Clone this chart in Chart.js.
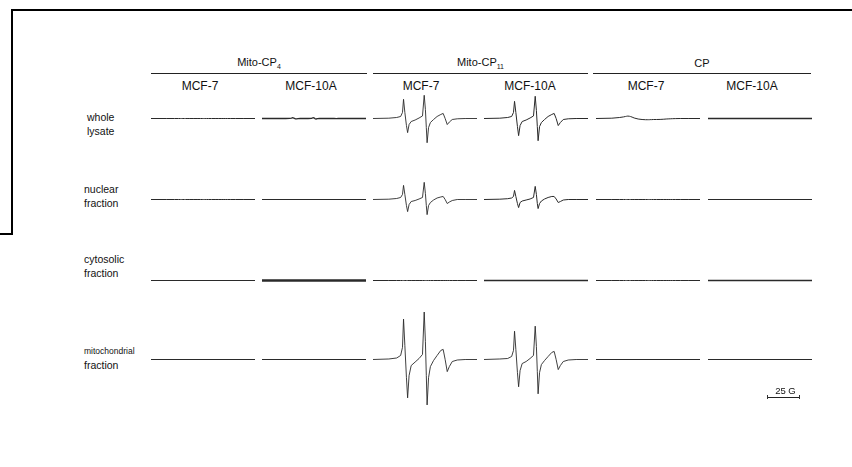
<!DOCTYPE html>
<html>
<head>
<meta charset="utf-8">
<script src="https://cdn.jsdelivr.net/npm/chart.js@4.4.1/dist/chart.umd.min.js"></script>
<style>
  html, body { margin: 0; padding: 0; background: #fff; }
  #fig { position: relative; width: 852px; height: 467px; overflow: hidden; font-family: "Liberation Sans", Arial, sans-serif; color: #111; }
  .lbl { position: absolute; white-space: nowrap; transform: translate(-50%, -50%); }
  .row { position: absolute; white-space: nowrap; font-size: 10.5px; line-height: 14px; }
  .hline { position: absolute; height: 0; border-top: 1px solid #222; }
  .frame { position: absolute; background: #000; }
  canvas { position: absolute; }
  sub { font-size: 7px; vertical-align: -3px; }
</style>
</head>
<body>
<div id="fig"></div>
<script>
// field axis (G) shared by all traces
const fieldG = [0, 12, 18, 21, 22.4, 23.2, 24.2, 25.4, 26.3, 27.4, 29, 32, 35, 37.6, 38.9, 39.8, 40.5, 41.1, 42.2, 43.6, 46, 48.7, 51.5, 53.3, 54.8, 56.4, 58, 60.2, 64, 70, 79];

const probes = ['Mito-CP', 'Mito-CP', 'CP'];
const probeSubs = ['4', '11', ''];
const cellLines = ['MCF-7', 'MCF-10A'];
const fractions = [['whole', 'lysate'], ['nuclear', 'fraction'], ['cytosolic', 'fraction'], ['mitochondrial', 'fraction']];

// EPR intensities (arbitrary units), one array per spectrum
const flat = fieldG.map(() => 0);
const wholeCP4_10A  = [0, 0, 0, 0.2, 0.4, 0.8, 0.3, -0.3, -0.4, -0.2, 0, 0, 0, 0.2, 0.8, 0.3, -0.3, -0.5, -0.2, 0, 0, 0, 0, 0.1, 0, -0.1, 0, 0, 0, 0, 0];
const wholeCP11_7   = [0, 0.3, 1, 2, 6, 19, 6, -7, -14, -6, -3, -1.5, 0.5, 2.5, 23, 9, -9, -24, -9, -4, -1, 2, 4, 5, 0, -6, -3.5, -1, -0.3, 0, 0];
const wholeCP11_10A = [0, 0.3, 1, 2, 6, 17, 6, -8, -17, -7, -3, -1.5, 0.5, 2.5, 22, 8, -8, -22, -8, -4, -1, 2, 4, 5, 0, -7, -4, -1, -0.3, 0, 0];
const wholeCP_7     = [0, 0.3, 1, 1.6, 2, 2.2, 2.4, 2.2, 1.9, 1.4, 0.5, -0.5, -1, -1.2, -1.2, -1.2, -1.2, -1.1, -1.1, -1, -1, -0.9, -0.7, -0.5, -0.4, -0.3, -0.2, -0.1, 0, 0, 0];
const nucCP11_7     = [0, 0.3, 1, 2, 5, 14, 5, -6, -12, -5, -2, -1, 0.5, 2, 17, 6, -6, -15, -6, -3, -0.5, 1.5, 2.5, 3, 0, -4, -2.5, -1, 0, 0, 0];
const nucCP11_10A   = [0, 0.3, 0.8, 1.5, 3, 9, 3, -4, -8, -3, -1.5, -0.5, 0.5, 2, 13, 5, -4, -9, -4, -1.5, 0.5, 2, 3, 3, 0.5, -3, -2, -0.5, 0, 0, 0];
const mitoCP11_7    = [0, 0.5, 1.5, 4, 12, 40, 14, -18, -38, -16, -6, -2.5, 1, 5, 47, 18, -16, -45, -18, -7, -1, 4, 9, 10, 0, -12, -7, -2, -0.5, 0, 0];
const mitoCP11_10A  = [0, 0.5, 1, 3, 9, 28, 10, -13, -27, -11, -4, -2, 1, 4, 33, 13, -12, -34, -13, -5, -1, 3, 7, 8, 0, -10, -6, -2, -0.5, 0, 0];

// [fraction][probe*2 + cell line]
const spectra = [
  [flat, wholeCP4_10A, wholeCP11_7, wholeCP11_10A, wholeCP_7, flat],
  [flat, flat, nucCP11_7, nucCP11_10A, flat, flat],
  [flat, flat, flat, flat, flat, flat],
  [flat, flat, mitoCP11_7, mitoCP11_10A, flat, flat]
];

// layout / style
const colX = [151, 262, 373, 484, 596, 708];
const colW = 104;
const rowY = [118, 199, 280, 359];
const noiseW = [
  [1.0, 1.3, 0.9, 1.0, 1.0, 1.4],
  [1.0, 1.2, 0.9, 1.0, 1.0, 1.2],
  [1.1, 2.4, 1.0, 1.7, 1.0, 1.7],
  [1.1, 1.2, 0.9, 0.9, 1.2, 1.2]
];

const fig = document.getElementById('fig');
function add(cls, style, html) {
  const d = document.createElement('div');
  d.className = cls;
  Object.assign(d.style, style);
  if (html !== undefined) d.innerHTML = html;
  fig.appendChild(d);
  return d;
}

// frame
add('frame', {left: '11px', top: '9px', width: '841px', height: '2px'});
add('frame', {left: '11px', top: '9px', width: '2px', height: '226px'});
add('frame', {left: '0px', top: '233px', width: '13px', height: '2px'});

// probe headers
const groupX = [[151, 367], [373, 588], [593, 811]];
probes.forEach((p, i) => {
  const [a, b] = groupX[i];
  const txt = probeSubs[i] ? p + '<sub>' + probeSubs[i] + '</sub>' : p;
  add('lbl', {left: ((a + b) / 2) + 'px', top: '63px', fontSize: '11px'}, txt);
  add('hline', {left: a + 'px', top: '73px', width: (b - a) + 'px'});
});
const cellX = [200, 311, 421, 530, 646, 752];
cellX.forEach((x, i) => {
  add('lbl', {left: x + 'px', top: '86px', fontSize: '12px'}, cellLines[i % 2]);
});

// fraction labels
const rowLabelY = [124, 196, 266, 357];
fractions.forEach((f, r) => {
  const d = add('row', {left: '84px', top: (rowLabelY[r] - 14) + 'px'}, f[0] + '<br>' + f[1]);
  if (r === 0) { d.style.textAlign = 'center'; d.style.left = '87px'; }
  if (r === 3) { d.innerHTML = '<span style="font-size:8.5px">' + f[0] + '</span><br>' + f[1]; }
});

// spectra
let scaleChart = null;
spectra.forEach((row, r) => {
  row.forEach((vals, c) => {
    const cv = document.createElement('canvas');
    cv.width = colW; cv.height = 101;
    cv.style.left = colX[c] + 'px';
    cv.style.top = (rowY[r] - 50) + 'px';
    fig.appendChild(cv);
    const ch = new Chart(cv.getContext('2d'), {
      type: 'line',
      data: {
        datasets: [{
          data: fieldG.map((g, k) => ({x: g, y: vals[k]})),
          borderColor: '#2a2a2a',
          borderWidth: noiseW[r][c],
          pointRadius: 0,
          tension: 0
        }]
      },
      options: {
        responsive: false,
        animation: false,
        events: [],
        plugins: { legend: { display: false }, tooltip: { enabled: false } },
        layout: { padding: 0 },
        scales: {
          x: { type: 'linear', min: 0, max: 79, display: false },
          y: { min: -50, max: 50, display: false }
        }
      }
    });
    if (r === 3 && c === 5) scaleChart = ch;
  });
});

// 25 G scale bar from the chart's own x scale
const barPx = scaleChart.scales.x.getPixelForValue(25) - scaleChart.scales.x.getPixelForValue(0);
add('hline', {left: '767px', top: '397px', width: barPx + 'px'});
add('frame', {left: '767px', top: '395px', width: '1px', height: '4px', background: '#333'});
add('frame', {left: (767 + barPx - 1) + 'px', top: '395px', width: '1px', height: '4px', background: '#333'});
add('lbl', {left: (767 + barPx / 2 + 2) + 'px', top: '390px', fontSize: '9.5px'}, '25 G');
</script>
</body>
</html>
